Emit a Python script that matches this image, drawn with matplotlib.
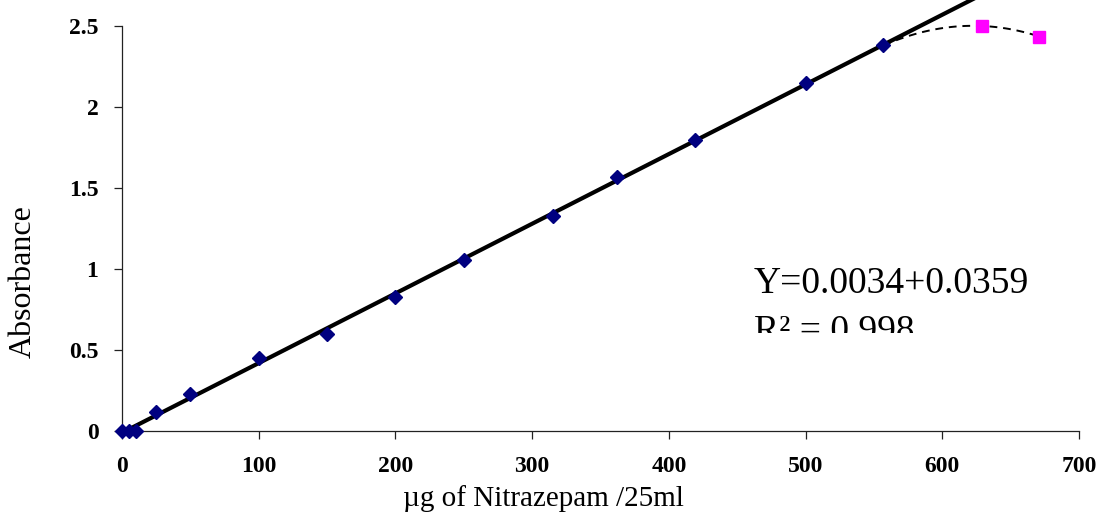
import matplotlib
matplotlib.use("Agg")
import matplotlib.pyplot as plt
import numpy as np
from matplotlib.transforms import Bbox, TransformedBbox

# calibration points (linear range)
conc = [0, 5, 10, 25, 50, 100, 150, 200, 250, 315, 362, 419, 500, 557]
absorb = [0.0, 0.0, 0.0, 0.12, 0.23, 0.45, 0.60, 0.83, 1.055, 1.33, 1.565, 1.795, 2.15, 2.38]

# points past the linear range
conc_high = [557, 629, 671]
absorb_high = [2.38, 2.50, 2.435]

x_ticks = [0, 100, 200, 300, 400, 500, 600, 700]
y_ticks = [0, 0.5, 1, 1.5, 2, 2.5]
y_tick_labels = ['0', '0.5', '1', '1.5', '2', '2.5']

plt.rcParams['font.family'] = ['Liberation Serif', 'DejaVu Serif']

fig = plt.figure(figsize=(10.98, 5.27), dpi=100)
W, H = 1098, 527
ax = fig.add_axes([122 / W, 1 - 431 / H, (1079 - 122) / W, (431 - 26) / H])
ax.set_xlim(0, 700)
ax.set_ylim(0, 2.5)

# linear trend line (least squares on the calibration points)
slope, icpt = np.polyfit(conc, absorb, 1)
xt = np.array([0, 660])
ax.plot(xt, icpt + slope * xt, color='black', lw=3.0, clip_on=False, zorder=3)

# smoothed dashed curve through the saturated points
coef = np.polyfit(conc_high, absorb_high, 2)
xs = np.linspace(conc_high[0], conc_high[-1], 100)
ax.plot(xs, np.polyval(coef, xs), color='black', lw=1.4, ls=(0, (4, 3)),
        clip_on=False, zorder=2)

ax.plot(conc, absorb, ls='none', marker='D', ms=7, color='#000080',
        clip_on=False, zorder=4)
ax.plot(conc_high[1:], absorb_high[1:], ls='none', marker='s', ms=8,
        color='#FF00FF', clip_on=False, zorder=4)

for s in ['top', 'right']:
    ax.spines[s].set_visible(False)
for s in ['left', 'bottom']:
    ax.spines[s].set_linewidth(0.9)
    ax.spines[s].set_color('#222222')

ax.set_xticks(x_ticks)
ax.set_yticks(y_ticks)
ax.set_yticklabels(y_tick_labels)
ax.tick_params(direction='out', length=6, width=0.9, color='#222222',
               labelsize=17)
ax.tick_params(axis='x', pad=12)
ax.tick_params(axis='y', pad=11)
for lab in ax.get_xticklabels() + ax.get_yticklabels():
    lab.set_fontweight('bold')

fig.text(543 / W, 1 - 499 / H, 'µg of Nitrazepam /25ml', fontsize=21,
         ha='center', va='center')
fig.text(23 / W, 1 - 282 / H, 'Absorbance', fontsize=23, rotation=90,
         ha='center', va='center')

fig.text(754 / W, 1 - 293 / H, 'Y=0.0034+0.0359', fontsize=27,
         ha='left', va='baseline')
t2 = fig.text(754 / W, 1 - 341 / H, 'R² = 0.998', fontsize=27,
              ha='left', va='baseline')
clip = TransformedBbox(Bbox([[0.6, 1 - 333 / H], [1.0, 1 - 250 / H]]),
                       fig.transFigure)
t2.set_clip_box(clip)
t2.set_clip_on(True)

fig.savefig('out.png', dpi=100)
